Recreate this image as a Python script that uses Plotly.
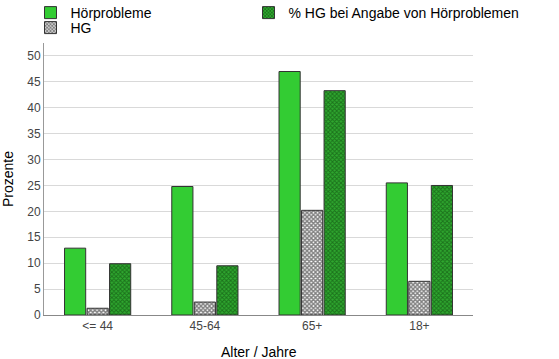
import plotly.graph_objects as go

categories = ["<= 44", "45-64", "65+", "18+"]
hoerprobleme = [12.9, 24.8, 47.0, 25.5]
hg = [1.3, 2.5, 20.2, 6.5]
hg_bei_hp = [9.9, 9.5, 43.3, 25.0]
y_ticks = [0, 5, 10, 15, 20, 25, 30, 35, 40, 45, 50]

font_family = "Liberation Sans, Arial, sans-serif"

fig = go.Figure()
fig.add_trace(go.Bar(
    x=categories, y=hoerprobleme, name="Hörprobleme", legend="legend",
    marker=dict(color="#33cc33", line=dict(color="#333333", width=1)),
))
fig.add_trace(go.Bar(
    x=categories, y=hg, name="HG", legend="legend3",
    marker=dict(color="#ffffff", line=dict(color="#333333", width=1),
                pattern=dict(shape="x", fgcolor="#000000", bgcolor="#ffffff",
                             size=3, solidity=0.7)),
))
fig.add_trace(go.Bar(
    x=categories, y=hg_bei_hp, name="% HG bei Angabe von Hörproblemen", legend="legend2",
    marker=dict(color="#2a9a2a", line=dict(color="#333333", width=1),
                pattern=dict(shape="x", fgcolor="#0a3c0a", bgcolor="#2fa82f",
                             size=3, solidity=0.55)),
))

leg_common = dict(
    orientation="v", xref="container", yref="container",
    xanchor="left", yanchor="middle",
    font=dict(size=14, family=font_family, color="#000000"),
    itemwidth=30, bgcolor="rgba(0,0,0,0)",
)

plot_l, plot_r, plot_t, plot_b = 44, 473, 43, 315
pw, ph = plot_r - plot_l, plot_b - plot_t

fig.update_layout(
    width=559, height=359,
    margin=dict(l=plot_l, r=559 - plot_r, t=plot_t, b=359 - plot_b, autoexpand=False),
    paper_bgcolor="white", plot_bgcolor="white",
    font=dict(family=font_family, color="#000000"),
    barmode="group", bargap=0.37, bargroupgap=0.06,
    showlegend=True,
    legend=dict(x=30.5 / 559, y=1 - 13 / 359, **leg_common),
    legend3=dict(x=30.5 / 559, y=1 - 28 / 359, **leg_common),
    legend2=dict(x=248.5 / 559, y=1 - 13 / 359, **leg_common),
    xaxis=dict(
        tickfont=dict(size=12, color="#444444"),
        showline=True, linecolor="#888888", linewidth=1,
        ticks="", showgrid=False,
    ),
    yaxis=dict(
        range=[0, 52.5], tickvals=y_ticks,
        tickfont=dict(size=12, color="#444444"),
        showline=True, linecolor="#999999", linewidth=1,
        showgrid=True, gridcolor="#d9d9d9", gridwidth=1,
        ticks="", zeroline=False,
    ),
    annotations=[
        dict(text="Alter / Jahre", xref="paper", yref="paper",
             x=0.5, y=(plot_b - 352) / ph, xanchor="center", yanchor="middle",
             showarrow=False, font=dict(size=14, color="#000000")),
        dict(text="Prozente", xref="paper", yref="paper",
             x=(8 - plot_l) / pw, y=0.5, xanchor="center", yanchor="middle", textangle=-90,
             showarrow=False, font=dict(size=14, color="#000000")),
    ],
)

fig.write_html("out.html", config={"displayModeBar": False},
               post_script="document.body.style.margin='0px';")
